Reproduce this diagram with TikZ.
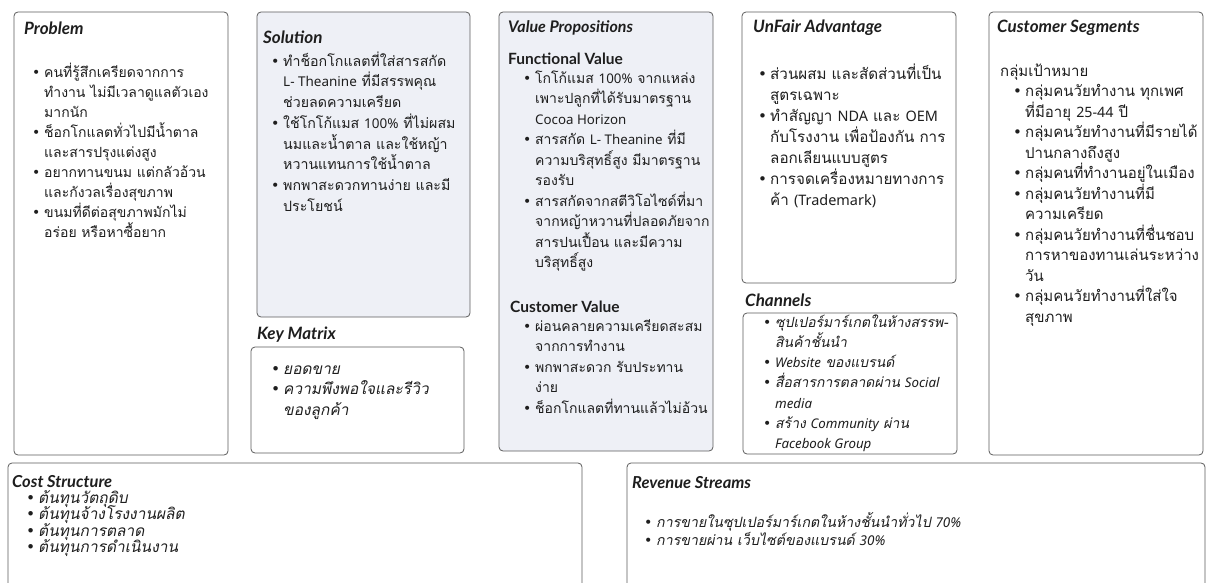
\documentclass[tikz,border=0pt]{standalone}
\usepackage{fontspec}
\setmainfont{Noto Sans}
\newfontfamily\thaifont[Script=Thai,AutoFakeSlant=0.2]{Loma}
\newfontfamily\enfont[Scale=0.95]{Noto Sans}
\newfontfamily\headfont{Lato}
\newfontfamily\symfont{DejaVu Sans}
\definecolor{edge}{HTML}{5C5C5C}
\definecolor{tint}{HTML}{EEF0F6}
\definecolor{ink}{HTML}{1E1E1E}
\lineskiplimit=-40pt
\newcommand{\en}[1]{{\enfont #1}}
\newcommand{\bul}{\makebox[12pt][l]{{\symfont •}}}
\newcommand{\ind}{\hspace*{12pt}}
\newcommand{\fstrut}{\rule{0pt}{16pt}}
\newcommand{\thsize}[2]{\thaifont\fontsize{#1}{#2}\selectfont}

\begin{document}
\begin{tikzpicture}[x=1pt,y=-1pt]
    \tikzstyle{panel} = [draw=edge, line width=0.8pt, rounded corners=4pt, fill=white]
    \tikzstyle{tinted} = [panel, fill=tint]
    \tikzstyle{head} = [anchor=west, inner sep=0pt, text=ink,
        font=\headfont\bfseries\itshape\fontsize{17}{20}\selectfont]
    \tikzstyle{subhead} = [head, font=\headfont\bfseries\fontsize{15.5}{18}\selectfont]
    \tikzstyle{lowhead} = [head, font=\headfont\bfseries\itshape\fontsize{16.5}{18}\selectfont]
    \tikzstyle{body} = [anchor=north west, inner sep=0pt, align=left, text=ink,
        font=\thsize{14}{20.5}]

    \useasboundingbox (0,0) rectangle (1211,583);
    \clip (0,0) rectangle (1211,583);

    % panels
    \draw[panel] (14,12) rectangle (228,455);
    \draw[tinted] (257,12) rectangle (470,317);
    \draw[panel] (251,347) rectangle (464,453);
    \draw[tinted] (499,12) rectangle (713,451);
    \draw[panel] (742,12) rectangle (956,283);
    \draw[panel] (743,313) rectangle (957,454);
    \draw[panel] (989,12) rectangle (1203,455);
    \draw[panel] (8,463) rectangle (582,600);
    \draw[panel] (627,463) rectangle (1205,600);

    % titles
    \node(problem) [head] at (24,28) {Problem};
    \node(solution) [head] at (263,37) {Solution};
    \node(keymatrix) [head] at (257,335) {Key Matrix};
    \node(valueprop) [head, font=\headfont\bfseries\itshape\fontsize{16}{20}\selectfont]
        at (508,28) {Value Propositions};
    \node(functional) [subhead] at (508,59) {Functional Value};
    \node(custvalue) [subhead] at (510,307) {Customer Value};
    \node(unfair) [head] at (753,28) {UnFair Advantage};
    \node(channels) [head] at (745,300) {Channels};
    \node(segments) [head] at (997,28) {Customer Segments};
    \node(cost) [lowhead] at (12,482) {Cost Structure};
    \node(revenue) [lowhead] at (632,483) {Revenue Streams};

    % texts
    \node(problemtext) [body, font=\thsize{14}{20}] at (32,61)
        {\fstrut\bul คนที่รู้สึกเครียดจากการ\\
        \ind ทำงาน ไม่มีเวลาดูแลตัวเอง\\
        \ind มากนัก\\
        \bul ช็อกโกแลตทั่วไปมีน้ำตาล\\
        \ind และสารปรุงแต่งสูง\\
        \bul อยากทานขนม แต่กลัวอ้วน\\
        \ind และกังวลเรื่องสุขภาพ\\
        \bul ขนมที่ดีต่อสุขภาพมักไม่\\
        \ind อร่อย หรือหาซื้อยาก};
    \node(solutiontext) [body, font=\thsize{14.2}{20.7}] at (271,50)
        {\fstrut\bul ทำช็อกโกแลตที่ใส่สารสกัด\\
        \ind \en{L- Theanine} ที่มีสรรพคุณ\\
        \ind ช่วยลดความเครียด\\
        \bul ใช้โกโก้แมส \en{100\%} ที่ไม่ผสม\\
        \ind นมและน้ำตาล และใช้หญ้า\\
        \ind หวานแทนการใช้น้ำตาล\\
        \bul พกพาสะดวกทานง่าย และมี\\
        \ind ประโยชน์};
    \node(keymatrixtext) [body, font=\thsize{15.5}{20.5}\itshape] at (271,358)
        {\fstrut\bul ยอดขาย\\
        \bul ความพึงพอใจและรีวิว\\
        \ind ของลูกค้า};
    \node(functionaltext) [body] at (523,67)
        {\fstrut\bul โกโก้แมส \en{100\%} จากแหล่ง\\
        \ind เพาะปลูกที่ได้รับมาตรฐาน\\
        \ind \en{Cocoa Horizon}\\
        \bul สารสกัด \en{L- Theanine} ที่มี\\
        \ind ความบริสุทธิ์สูง มีมาตรฐาน\\
        \ind รองรับ\\
        \bul สารสกัดจากสตีวิโอไซด์ที่มา\\
        \ind จากหญ้าหวานที่ปลอดภัยจาก\\
        \ind สารปนเปื้อน และมีความ\\
        \ind บริสุทธิ์สูง};
    \node(custvaluetext) [body] at (523,315)
        {\fstrut\bul ผ่อนคลายความเครียดสะสม\\
        \ind จากการทำงาน\\
        \bul พกพาสะดวก รับประทาน\\
        \ind ง่าย\\
        \bul ช็อกโกแลตที่ทานแล้วไม่อ้วน};
    \node(unfairtext) [body, font=\thsize{15.2}{21}] at (758,63)
        {\fstrut\bul ส่วนผสม และสัดส่วนที่เป็น\\
        \ind สูตรเฉพาะ\\
        \bul ทำสัญญา \en{NDA} และ \en{OEM}\\
        \ind กับโรงงาน เพื่อป้องกัน การ\\
        \ind ลอกเลียนแบบสูตร\\
        \bul การจดเครื่องหมายทางการ\\
        \ind ค้า \en{(Trademark)}};
    \node(channelstext) [body, font=\thsize{14}{20.2}\itshape] at (763,311)
        {\fstrut\bul ซุปเปอร์มาร์เกตในห้างสรรพ-\\
        \ind สินค้าชั้นนำ\\
        \bul \en{Website} ของแบรนด์\\
        \bul สื่อสารการตลาดผ่าน \en{Social}\\
        \ind \en{media}\\
        \bul สร้าง \en{Community} ผ่าน\\
        \ind \en{Facebook Group}};
    \node(segmentstext) [body, font=\thsize{15}{20.5}] at (1000,60)
        {\fstrut กลุ่มเป้าหมาย\\
        \hspace*{13pt}\bul กลุ่มคนวัยทำงาน ทุกเพศ\\
        \hspace*{13pt}\ind ที่มีอายุ \en{25-44} ปี\\
        \hspace*{13pt}\bul กลุ่มคนวัยทำงานที่มีรายได้\\
        \hspace*{13pt}\ind ปานกลางถึงสูง\\
        \hspace*{13pt}\bul กลุ่มคนที่ทำงานอยู่ในเมือง\\
        \hspace*{13pt}\bul กลุ่มคนวัยทำงานที่มี\\
        \hspace*{13pt}\ind ความเครียด\\
        \hspace*{13pt}\bul กลุ่มคนวัยทำงานที่ชื่นชอบ\\
        \hspace*{13pt}\ind การหาของทานเล่นระหว่าง\\
        \hspace*{13pt}\ind วัน\\
        \hspace*{13pt}\bul กลุ่มคนวัยทำงานที่ใส่ใจ\\
        \hspace*{13pt}\ind สุขภาพ};
    \node(costtext) [body, font=\thsize{15.5}{16.5}\itshape] at (26,487)
        {\fstrut\bul ต้นทุนวัตถุดิบ\\
        \bul ต้นทุนจ้างโรงงานผลิต\\
        \bul ต้นทุนการตลาด\\
        \bul ต้นทุนการดำเนินงาน};
    \node(revenuetext) [body, font=\thsize{14.2}{18}\itshape] at (644,511)
        {\fstrut\bul การขายในซุปเปอร์มาร์เกตในห้างชั้นนำทั่วไป \en{70\%}\\
        \bul การขายผ่าน เว็บไซต์ของแบรนด์ \en{30\%}};
\end{tikzpicture}
\end{document}
